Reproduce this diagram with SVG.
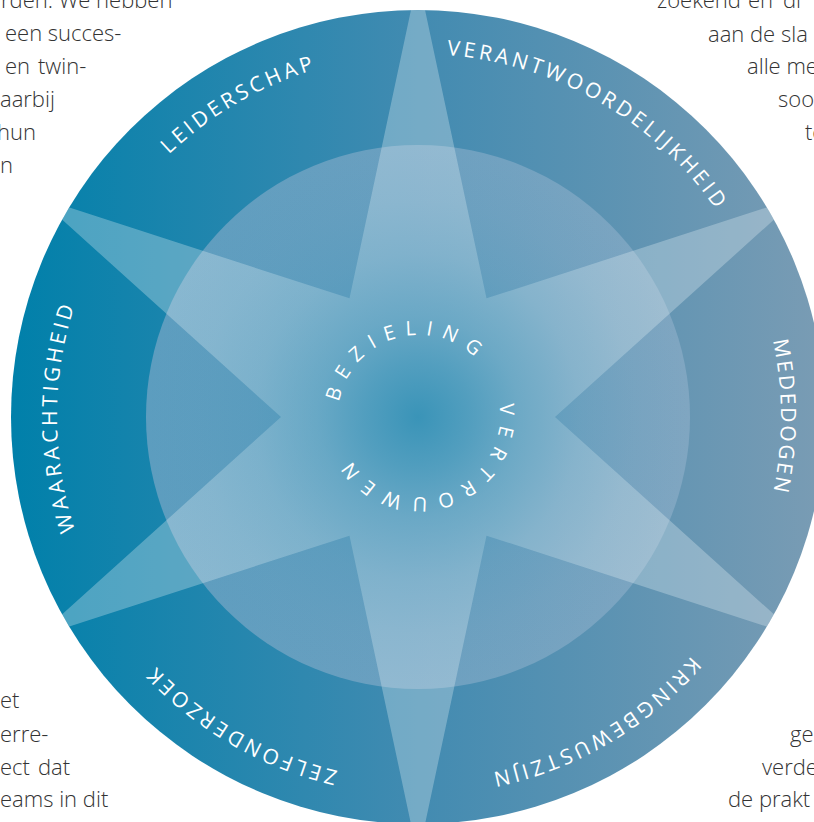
<svg xmlns="http://www.w3.org/2000/svg" width="814" height="822" viewBox="0 0 814 822">
<style>
.body{font-family:"Open Sans","Noto Sans","Liberation Sans",sans-serif;font-weight:300;font-size:22px;fill:#333333}
.lbl{font-family:"Open Sans","Noto Sans","Liberation Sans",sans-serif;font-weight:400;font-size:21px;fill:#ffffff;letter-spacing:3.5px}
.ctr{font-family:"Open Sans","Noto Sans","Liberation Sans",sans-serif;font-weight:400;font-size:20px;fill:#ffffff;letter-spacing:9.5px}
</style>
<defs>
<linearGradient id="ringGrad" gradientUnits="userSpaceOnUse" x1="11" y1="0" x2="825" y2="0">
<stop offset="0" stop-color="#0080aa"/>
<stop offset="0.5" stop-color="#428bb1"/>
<stop offset="1" stop-color="#7a9cb4"/>
</linearGradient>
<linearGradient id="innerGrad" gradientUnits="userSpaceOnUse" x1="146" y1="0" x2="690" y2="0">
<stop offset="0" stop-color="#5c9dbf"/>
<stop offset="0.5" stop-color="#6ca0c0"/>
<stop offset="1" stop-color="#80a6c1"/>
</linearGradient>
<radialGradient id="glowGrad" gradientUnits="userSpaceOnUse" cx="418" cy="417" r="272">
<stop offset="0" stop-color="#3a94b8" stop-opacity="1"/>
<stop offset="0.2" stop-color="#3a94b8" stop-opacity="0.72"/>
<stop offset="0.37" stop-color="#3a94b8" stop-opacity="0.45"/>
<stop offset="0.6" stop-color="#3a94b8" stop-opacity="0.2"/>
<stop offset="0.8" stop-color="#3a94b8" stop-opacity="0.07"/>
<stop offset="1" stop-color="#3a94b8" stop-opacity="0"/>
</radialGradient>
<clipPath id="outerClip"><circle cx="418" cy="417" r="407"/></clipPath>
<path id="labelPath" d="M 419 780 A 362 363 0 0 1 419 54 A 362 363 0 0 1 419 780"/>
<path id="centerPath" d="M 338 416 A 81 81 0 0 1 500 416 A 81 81 0 0 1 338 416"/>
</defs>

<g id="page-text">
<text class="body" x="1" y="8">rden. We hebben</text>
<text class="body" x="5" y="41">een succes-</text>
<text class="body" x="5" y="74">en</text>
<text class="body" x="38" y="74">twin-</text>
<text class="body" x="0" y="107">aarbij</text>
<text class="body" x="-3" y="140">hun</text>
<text class="body" x="0" y="173">n</text>
<text class="body" x="657" y="8">zoekend</text>
<text class="body" x="748" y="8">en</text>
<text class="body" x="783" y="8">di</text>
<text class="body" x="708" y="42">aan de sla</text>
<text class="body" x="747" y="74">alle me</text>
<text class="body" x="778" y="107">soo</text>
<text class="body" x="805" y="140">te</text>
<text class="body" x="0" y="708">et</text>
<text class="body" x="0" y="742">erre-</text>
<text class="body" x="0" y="775">ect</text>
<text class="body" x="38" y="775">dat</text>
<text class="body" x="0" y="807">eams in dit</text>
<text class="body" x="790" y="742">ge</text>
<text class="body" x="762" y="775">verde</text>
<text class="body" x="728" y="807">de prakt</text>
</g>

<g id="ring"><circle cx="418" cy="417" r="407" fill="url(#ringGrad)"/></g>
<g id="inner-circle"><circle cx="418" cy="417" r="272" fill="url(#innerGrad)"/></g>
<g id="star" clip-path="url(#outerClip)">
<polygon points="418,-23 486.5,298.35 799.05,197 555,417 799.05,637 486.5,535.65 418,857 349.5,535.65 36.95,637 281,417 36.95,197 349.5,298.35" fill="#eaf5fa" fill-opacity="0.3"/>
</g>
<g id="glow"><circle cx="418" cy="417" r="272" fill="url(#glowGrad)"/></g>

<g id="zelfonderzoek"><text class="lbl" text-anchor="middle"><textPath href="#labelPath" startOffset="8.33%">ZELFONDERZOEK</textPath></text></g>
<g id="waarachtigheid"><text class="lbl" text-anchor="middle"><textPath href="#labelPath" startOffset="25%">WAARACHTIGHEID</textPath></text></g>
<g id="leiderschap"><text class="lbl" text-anchor="middle"><textPath href="#labelPath" startOffset="41.67%">LEIDERSCHAP</textPath></text></g>
<g id="verantwoordelijkheid"><text class="lbl" text-anchor="middle"><textPath href="#labelPath" startOffset="58.33%">VERANTWOORDELIJKHEID</textPath></text></g>
<g id="mededogen"><text class="lbl" text-anchor="middle" style="letter-spacing:2.5px"><textPath href="#labelPath" startOffset="75%">MEDEDOGEN</textPath></text></g>
<g id="kringbewustzijn"><text class="lbl" text-anchor="middle"><textPath href="#labelPath" startOffset="91.67%">KRINGBEWUSTZIJN</textPath></text></g>

<g id="bezieling"><text class="ctr" text-anchor="middle"><textPath href="#centerPath" startOffset="20.8%">BEZIELING</textPath></text></g>
<g id="vertrouwen"><text class="ctr" text-anchor="middle"><textPath href="#centerPath" startOffset="70%">VERTROUWEN</textPath></text></g>
</svg>
